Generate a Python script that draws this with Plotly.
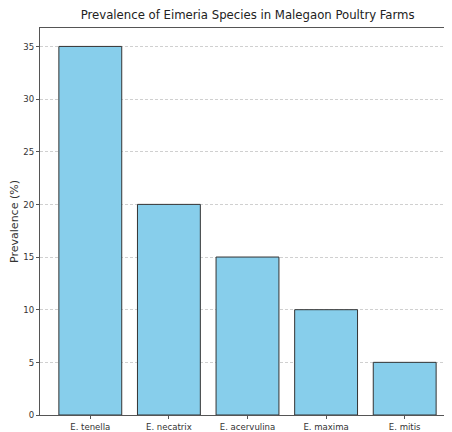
import plotly.graph_objects as go

species = ["E. tenella", "E. necatrix", "E. acervulina", "E. maxima", "E. mitis"]
prevalence = [35, 20, 15, 10, 5]
y_ticks = [0, 5, 10, 15, 20, 25, 30, 35]

fig = go.Figure()
fig.add_trace(go.Bar(
    x=list(range(len(species))), y=prevalence,
    width=0.8,
    marker=dict(color="#87CEEB", line=dict(color="#333333", width=1)),
))
fig.update_layout(
    width=448, height=424,
    margin=dict(l=32, r=1, t=20, b=17, autoexpand=False),
    plot_bgcolor="white", paper_bgcolor="white",
    showlegend=False,
    title=dict(text="Prevalence of Eimeria Species in Malegaon Poultry Farms",
               x=0.535, xanchor="center", y=0.995, yanchor="top",
               font=dict(family="DejaVu Sans Condensed", size=13, color="#222222")),
    font=dict(family="DejaVu Sans Condensed", size=9.5, color="#333333"),
)
fig.update_xaxes(
    range=[-0.64, 4.64], automargin=False,
    tickmode="array", tickvals=list(range(len(species))), ticktext=species,
    showline=True, linecolor="#555555", mirror=True, linewidth=1,
    ticks="outside", ticklen=3, tickcolor="#555555",
    showgrid=False, zeroline=False,
)
fig.update_yaxes(
    range=[0, 36.75], automargin=False,
    tickmode="array", tickvals=y_ticks,
    showline=True, linecolor="#555555", mirror=False, linewidth=1,
    ticks="outside", ticklen=3, tickcolor="#555555",
    showgrid=True, gridcolor="#d0d0d0", griddash="3px,2px", gridwidth=0.8,
    zeroline=False,
    title=dict(text="Prevalence (%)", font=dict(family="DejaVu Sans", size=11, color="#333333"), standoff=8),
)
fig.write_html("out.html")
